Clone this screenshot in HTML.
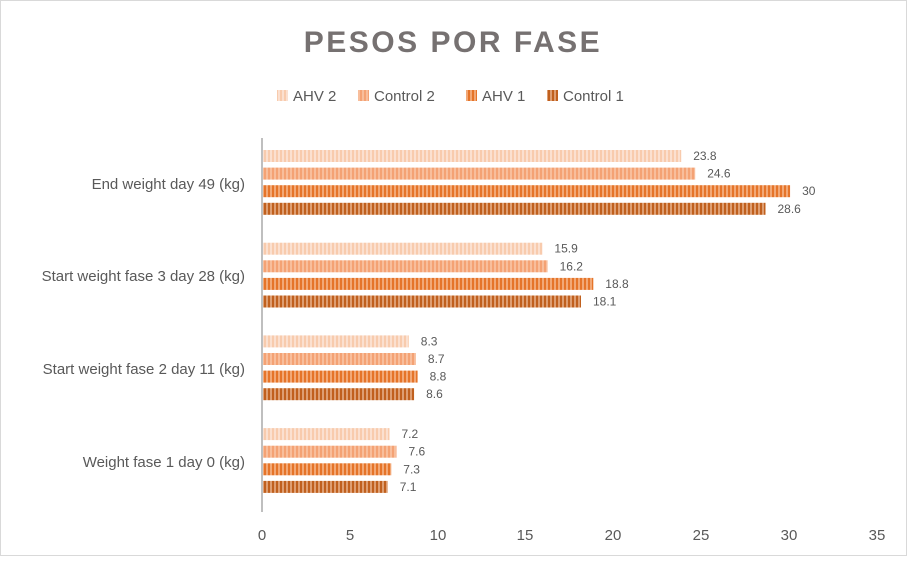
<!DOCTYPE html>
<html><head><meta charset="utf-8"><style>
body{margin:0;background:#fff}
svg text{font-family:"Liberation Sans",sans-serif}
</style></head><body>
<svg width="907" height="556" xmlns="http://www.w3.org/2000/svg">
<defs>
<pattern id="p0" width="4" height="12" patternUnits="userSpaceOnUse"><rect width="4" height="12" fill="#FBE0D0"/><rect width="2" height="12" fill="#F8CBAD"/></pattern>
<pattern id="p1" width="4" height="12" patternUnits="userSpaceOnUse"><rect width="4" height="12" fill="#F8BE9C"/><rect width="2" height="12" fill="#F4A274"/></pattern>
<pattern id="p2" width="4" height="12" patternUnits="userSpaceOnUse"><rect width="4" height="12" fill="#F2A876"/><rect width="2" height="12" fill="#E57429"/></pattern>
<pattern id="p3" width="4" height="12" patternUnits="userSpaceOnUse"><rect width="4" height="12" fill="#DE9E72"/><rect width="2" height="12" fill="#C0601E"/></pattern>
</defs>
<rect x="0.5" y="0.5" width="906" height="555" fill="#fff" stroke="#D9D9D9"/>
<text x="453" y="52" text-anchor="middle" font-size="30" font-weight="bold" fill="#767171" letter-spacing="2.5">PESOS POR FASE</text>
<g font-size="15" fill="#595959">
<rect x="277" y="90" width="11" height="11" fill="url(#p0)"/><text x="293" y="101">AHV 2</text>
<rect x="358" y="90" width="11" height="11" fill="url(#p1)"/><text x="374" y="101">Control 2</text>
<rect x="466" y="90" width="11" height="11" fill="url(#p2)"/><text x="482" y="101">AHV 1</text>
<rect x="547" y="90" width="11" height="11" fill="url(#p3)"/><text x="563" y="101">Control 1</text>
</g>
<line x1="262" y1="138" x2="262" y2="512" stroke="#BFBFBF" stroke-width="2"/>
<g font-size="15" fill="#595959" text-anchor="end">
<text x="245" y="189">End weight day 49 (kg)</text>
<text x="245" y="281">Start weight fase 3 day 28 (kg)</text>
<text x="245" y="374">Start weight fase 2 day 11 (kg)</text>
<text x="245" y="467">Weight fase 1 day 0 (kg)</text>
</g>
<g font-size="15" fill="#595959" text-anchor="middle">
<text x="262" y="540">0</text><text x="350" y="540">5</text><text x="438" y="540">10</text><text x="525" y="540">15</text><text x="613" y="540">20</text><text x="701" y="540">25</text><text x="789" y="540">30</text><text x="877" y="540">35</text>
</g>
<g>
<rect x="263" y="150" width="418.2" height="12" fill="url(#p0)"/>
<rect x="263" y="167.6" width="432.2" height="12" fill="url(#p1)"/>
<rect x="263" y="185.2" width="527.1" height="12" fill="url(#p2)"/>
<rect x="263" y="202.8" width="502.5" height="12" fill="url(#p3)"/>
<rect x="263" y="242.7" width="279.4" height="12" fill="url(#p0)"/>
<rect x="263" y="260.3" width="284.6" height="12" fill="url(#p1)"/>
<rect x="263" y="277.9" width="330.3" height="12" fill="url(#p2)"/>
<rect x="263" y="295.5" width="318.0" height="12" fill="url(#p3)"/>
<rect x="263" y="335.4" width="145.8" height="12" fill="url(#p0)"/>
<rect x="263" y="353" width="152.9" height="12" fill="url(#p1)"/>
<rect x="263" y="370.6" width="154.6" height="12" fill="url(#p2)"/>
<rect x="263" y="388.2" width="151.1" height="12" fill="url(#p3)"/>
<rect x="263" y="428.1" width="126.5" height="12" fill="url(#p0)"/>
<rect x="263" y="445.7" width="133.5" height="12" fill="url(#p1)"/>
<rect x="263" y="463.3" width="128.3" height="12" fill="url(#p2)"/>
<rect x="263" y="480.9" width="124.7" height="12" fill="url(#p3)"/>
</g>
<g font-size="12" fill="#595959">
<text x="693.2" y="160">23.8</text>
<text x="707.2" y="177.6">24.6</text>
<text x="802.1" y="195.2">30</text>
<text x="777.5" y="212.8">28.6</text>
<text x="554.4" y="252.7">15.9</text>
<text x="559.6" y="270.3">16.2</text>
<text x="605.3" y="287.9">18.8</text>
<text x="593" y="305.5">18.1</text>
<text x="420.8" y="345.4">8.3</text>
<text x="427.9" y="363">8.7</text>
<text x="429.6" y="380.6">8.8</text>
<text x="426.1" y="398.2">8.6</text>
<text x="401.5" y="438.1">7.2</text>
<text x="408.5" y="455.7">7.6</text>
<text x="403.3" y="473.3">7.3</text>
<text x="399.7" y="490.9">7.1</text>
</g>
</svg>
</body></html>
